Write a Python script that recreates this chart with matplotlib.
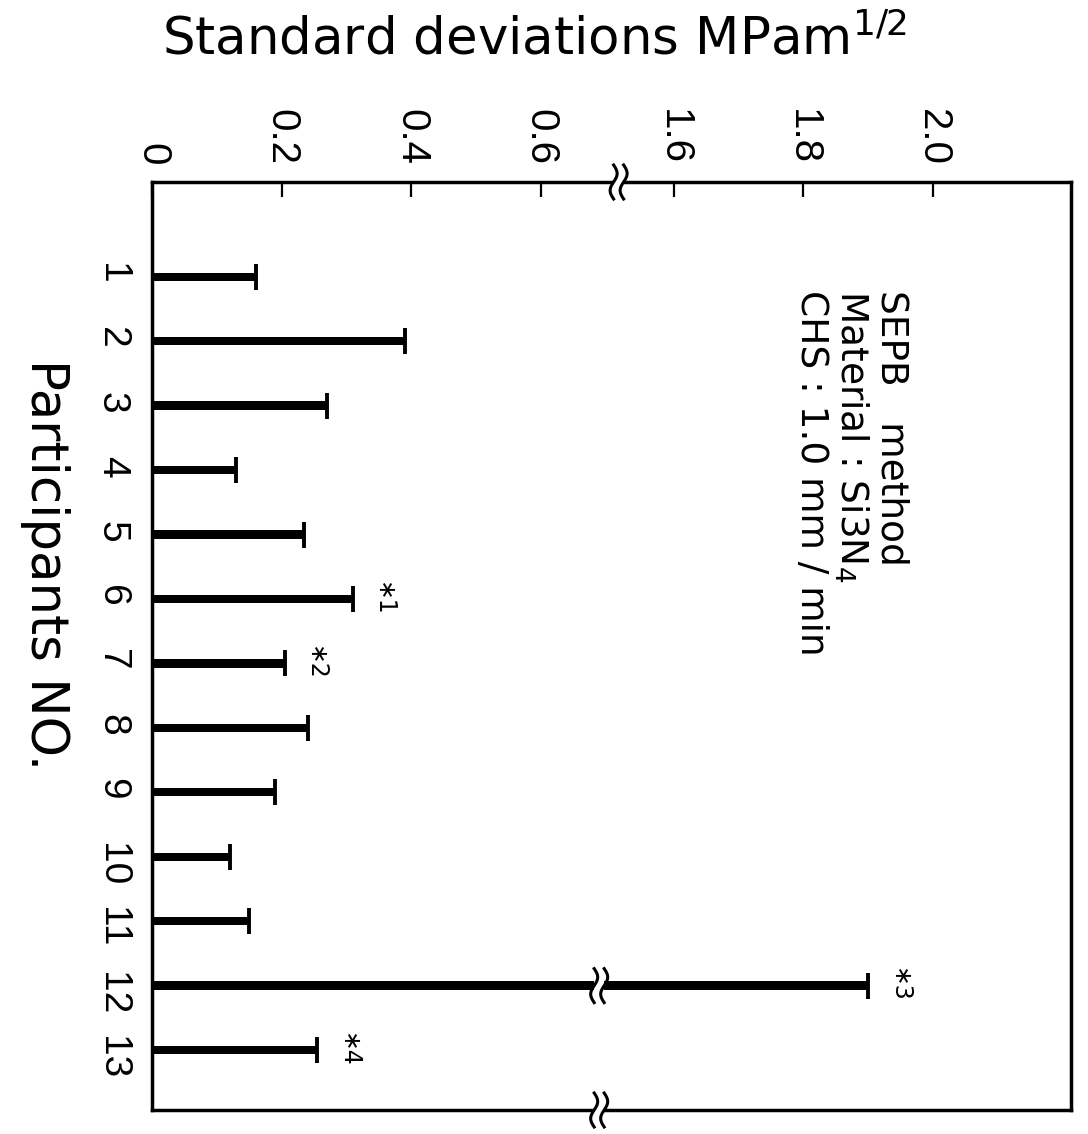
import numpy as np
import matplotlib
matplotlib.use("Agg")
import matplotlib.pyplot as plt
import matplotlib.transforms as mtrans

# --- data
participants = list(range(1, 14))
std_dev = [0.16, 0.39, 0.27, 0.13, 0.235, 0.31, 0.205, 0.24, 0.19, 0.12, 0.15, 1.90, 0.255]
note_ids = [6, 7, 12, 13]
note_txt = ["∗1", "∗2", "∗3", "∗4"]
xticks = [0, 0.2, 0.4, 0.6, 1.6, 1.8, 2.0]
xtick_labels = ["0", "0.2", "0.4", "0.6", "1.6", "1.8", "2.0"]

### broken axis : 0..0.72 then jump to 1.515
brk_lo, brk_hi = 0.72, 1.515

def fwd(v):
    v = np.asarray(v, dtype=float)
    return np.where(v <= brk_lo, v, np.where(v >= brk_hi, v - (brk_hi - brk_lo), brk_lo))

def inv(u):
    u = np.asarray(u, dtype=float)
    return np.where(u <= brk_lo, u, u + (brk_hi - brk_lo))

def break_mark(ax, x, y, trans):
    # two small wavy strokes drawn in inches around (x, y)
    t = mtrans.ScaledTranslation(x, y, trans)
    tr = ax.figure.dpi_scale_trans + t
    ax.add_patch(plt.Rectangle((-0.05, -0.05), 0.10, 0.10, transform=tr,
                               fc='white', ec='none', zorder=5, clip_on=False))
    s = np.linspace(-1, 1, 40)
    for dx in (-0.05, 0.05):
        ax.plot(dx + 0.035*np.sin(np.pi*s), 0.17*s, transform=tr, color='k',
                lw=2.2, zorder=6, clip_on=False)

num_font = ["Liberation Sans", "DejaVu Sans"]

fig = plt.figure(figsize=(10.88, 11.34), dpi=100)
ax = fig.add_axes([152/1088, 1-1110/1134, (1071-152)/1088, (1110-182)/1134])

ax.set_xscale('function', functions=(fwd, inv))
ax.set_xlim(0, 2.213)
ax.set_ylim(13.93, -0.47)

ax.barh(participants, std_dev, height=0.13, color='k')
ax.plot(std_dev, participants, ls='none', marker='|', ms=19, mew=2.8, color='k')

for pid, txt in zip(note_ids, note_txt):
    ax.annotate(txt, (std_dev[pid-1], pid), xytext=(22, 0), textcoords='offset points',
                rotation=-90, ha='center', va='center', fontsize=17)

for sp in ax.spines.values():
    sp.set_linewidth(2.5)

ax.xaxis.tick_top()
ax.set_xticks(xticks)
ax.set_xticklabels(xtick_labels, rotation=-90, family=num_font, fontsize=29)
ax.tick_params(axis='x', direction='in', length=11, width=1.6, pad=12)
ax.xaxis.set_minor_locator(matplotlib.ticker.NullLocator())

ax.set_yticks(participants)
ax.set_yticklabels([str(p) for p in participants], rotation=-90, family=num_font, fontsize=28)
ax.tick_params(axis='y', length=0, pad=16)

### break marks on top / bottom spines and on bar 12
break_mark(ax, 0.72, 1.0, ax.get_xaxis_transform())
break_mark(ax, 0.69, 0.0, ax.get_xaxis_transform())
break_mark(ax, 0.69, 12, ax.transData)

fig.text(535/1088, 1-40/1134, r"Standard deviations MPam$^{1/2}$", ha='center', va='center', fontsize=37)
fig.text(45/1088, 1-565/1134, "Participants NO.", rotation=-90, ha='center', va='center', fontsize=37)
fig.text(851/1088, 1-290/1134, "SEPB   method\nMaterial : Si3N$_4$\nCHS : 1.0 mm / min",
         rotation=-90, ha='center', va='top', multialignment='left', fontsize=27, linespacing=1.1)

fig.savefig("out.png", dpi=100)
